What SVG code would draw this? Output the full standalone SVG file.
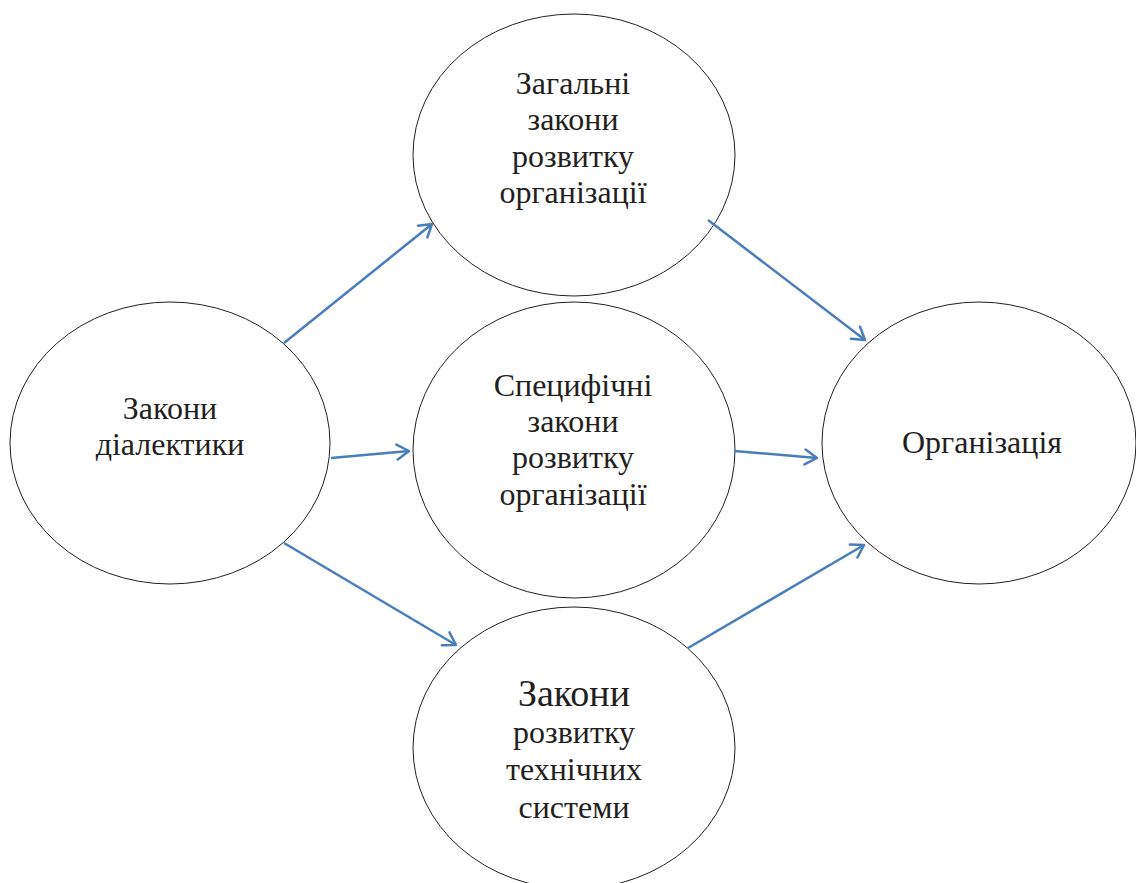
<svg xmlns="http://www.w3.org/2000/svg" width="1136" height="883" viewBox="0 0 1136 883">
<style>
.node ellipse{fill:#fff;stroke:#231f20;stroke-width:1}
.node text{font-family:'Liberation Serif','DejaVu Serif',serif;font-size:32px;fill:#231f20;text-anchor:middle}
.conn line{stroke:#4a7ebb;stroke-width:2.5;fill:none}
</style>
<defs>
<marker id="arr" markerUnits="userSpaceOnUse" viewBox="-16 -16 32 32" markerWidth="32" markerHeight="32" refX="0" refY="0" orient="auto">
<path d="M-12,-7.5 L0,0 L-12,7.5" fill="none" stroke="#4a7ebb" stroke-width="2.5" stroke-linecap="round" stroke-linejoin="round"/>
</marker>
</defs>
<rect width="1136" height="883" fill="#fff"/>
<g id="n-dialectics" class="node">
<ellipse cx="170" cy="443" rx="160" ry="141"/>
<text x="170" y="419">Закони</text>
<text x="170" y="455">діалектики</text>
</g>
<g id="n-general" class="node">
<ellipse cx="574" cy="155" rx="161" ry="141"/>
<text x="573" y="94">Загальні</text>
<text x="573" y="130">закони</text>
<text x="573" y="167">розвитку</text>
<text x="573" y="203">організації</text>
</g>
<g id="n-specific" class="node">
<ellipse cx="574" cy="450" rx="161" ry="148"/>
<text x="573" y="396">Специфічні</text>
<text x="573" y="432">закони</text>
<text x="573" y="468">розвитку</text>
<text x="573" y="505">організації</text>
</g>
<g id="n-technical" class="node">
<ellipse cx="574" cy="748" rx="161" ry="141"/>
<text x="574" y="706" style="font-size:38px">Закони</text>
<text x="574" y="743">розвитку</text>
<text x="574" y="780">технічних</text>
<text x="574" y="818">системи</text>
</g>
<g id="n-organization" class="node">
<ellipse cx="979" cy="443" rx="157" ry="141"/>
<text x="982" y="453">Організація</text>
</g>
<g id="connectors" class="conn">
<line x1="284" y1="343" x2="432" y2="224" marker-end="url(#arr)"/>
<line x1="331" y1="458" x2="409" y2="451" marker-end="url(#arr)"/>
<line x1="284" y1="543" x2="456" y2="645" marker-end="url(#arr)"/>
<line x1="708" y1="220" x2="865" y2="340" marker-end="url(#arr)"/>
<line x1="734" y1="451" x2="817" y2="458" marker-end="url(#arr)"/>
<line x1="688" y1="648" x2="864" y2="545" marker-end="url(#arr)"/>
</g>
</svg>
